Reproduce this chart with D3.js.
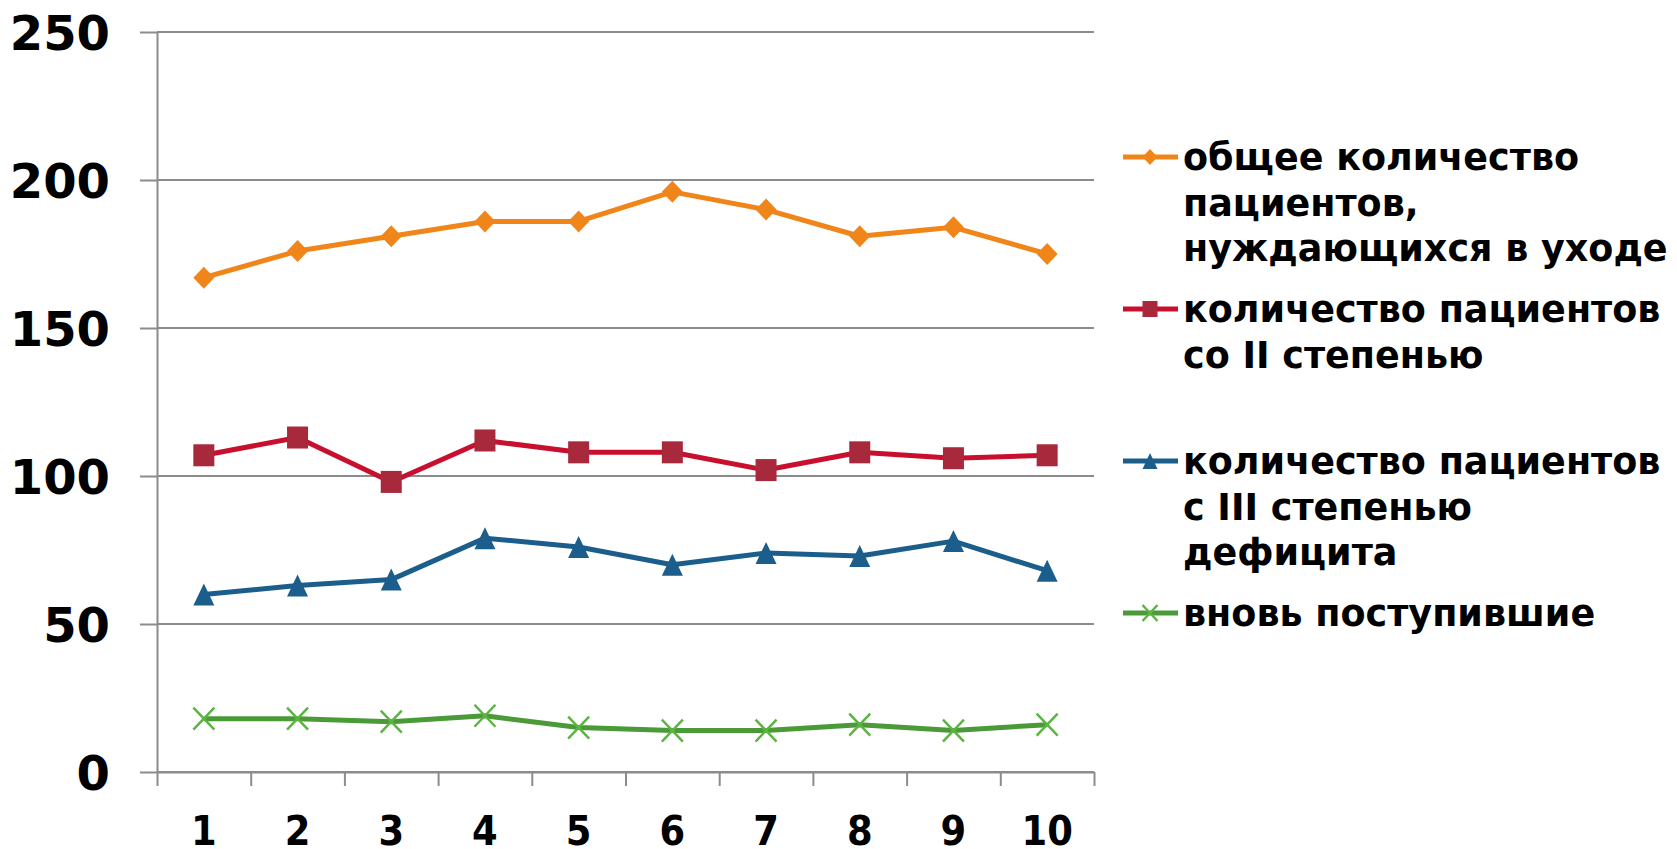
<!DOCTYPE html>
<html>
<head>
<meta charset="utf-8">
<script src="https://cdn.jsdelivr.net/npm/d3@7/dist/d3.min.js"></script>
<style>
  html, body { margin: 0; padding: 0; background: #fff; }
  svg { display: block; }
  text { font-family: "DejaVu Sans", Verdana, sans-serif; font-weight: bold; fill: #000; }
</style>
</head>
<body>
<svg id="chart" width="1677" height="849"></svg>
<script>
// Periods on the horizontal axis
const categories = ["1", "2", "3", "4", "5", "6", "7", "8", "9", "10"];
// Value axis ticks
const yTicks = [0, 50, 100, 150, 200, 250];

// Series values per period
const totalCare   = [167, 176, 181, 186, 186, 196, 190, 181, 184, 175];
const degreeII    = [107, 113, 98, 112, 108, 108, 102, 108, 106, 107];
const degreeIII   = [60, 63, 65, 79, 76, 70, 74, 73, 78, 68];
const newAdmitted = [18, 18, 17, 19, 15, 14, 14, 16, 14, 16];

// Legend labels (split into lines)
const labelTotal = ["общее количество", "пациентов,", "нуждающихся в уходе"];
const labelII    = ["количество пациентов", "со II степенью"];
const labelIII   = ["количество пациентов", "с III степенью", "дефицита"];
const labelNew   = ["вновь поступившие"];

const series = [
  { values: totalCare,   label: labelTotal, line: "#F08519", fill: "#F08519", marker: "diamond" },
  { values: degreeII,    label: labelII,    line: "#C8102E", fill: "#A8283C", marker: "square" },
  { values: degreeIII,   label: labelIII,   line: "#1B5E8C", fill: "#1B5E8C", marker: "triangle" },
  { values: newAdmitted, label: labelNew,   line: "#4A9A38", fill: "#5DB444", marker: "cross" }
];

const svg = d3.select("#chart");
const plot = { left: 157, right: 1094, top: 32, bottom: 772 };
const gridColor = "#8c8c8c";

const x = d3.scaleBand().domain(categories).range([plot.left, plot.right]);
const xEdge = d3.scaleLinear().domain([0, categories.length]).range([plot.left, plot.right]);
const y = d3.scaleLinear().domain([0, 250]).range([plot.bottom, plot.top]);
const cx = c => x(c) + x.bandwidth() / 2;

// Horizontal gridlines
svg.append("g")
  .selectAll("line")
  .data(yTicks)
  .join("line")
  .attr("x1", plot.left)
  .attr("x2", plot.right)
  .attr("y1", d => y(d))
  .attr("y2", d => y(d))
  .attr("stroke", gridColor)
  .attr("stroke-width", 2);

// Value axis
const yAxis = svg.append("g")
  .attr("transform", `translate(${plot.left},0)`)
  .call(d3.axisLeft(y).tickValues(yTicks).tickSize(17).tickSizeOuter(0).tickPadding(30));
yAxis.select(".domain").attr("stroke", gridColor).attr("stroke-width", 2);
yAxis.selectAll(".tick line").attr("stroke", gridColor).attr("stroke-width", 2);
yAxis.selectAll(".tick text")
  .attr("font-size", 48)
  .attr("font-family", "DejaVu Sans")
  .attr("font-weight", "bold")
  .attr("fill", "#000")
  .attr("dy", "0.36em");

// Category axis: tick marks on band edges
const xTickAxis = svg.append("g")
  .attr("transform", `translate(0,${plot.bottom})`)
  .call(d3.axisBottom(xEdge).tickValues(d3.range(categories.length + 1)).tickSize(14).tickSizeOuter(0).tickFormat(""));
xTickAxis.select(".domain").attr("stroke", gridColor).attr("stroke-width", 2);
xTickAxis.selectAll(".tick line").attr("stroke", gridColor).attr("stroke-width", 2);

// Category labels
const xAxis = svg.append("g")
  .attr("transform", `translate(0,${plot.bottom})`)
  .call(d3.axisBottom(x).tickSize(0).tickPadding(0));
xAxis.select(".domain").remove();
xAxis.selectAll(".tick text")
  .attr("font-size", 41)
  .attr("font-family", "DejaVu Sans")
  .attr("font-weight", "bold")
  .attr("fill", "#000")
  .attr("dy", null)
  .attr("y", 0)
  .attr("transform", "translate(0,73) scale(0.9,1)");

// Marker shapes
function drawMarker(g, type, color, s) {
  const w = s.w / 2, h = s.h / 2;
  if (type === "diamond") {
    g.append("path").attr("d", `M0,${-h}L${w},0L0,${h}L${-w},0Z`).attr("fill", color);
  } else if (type === "square") {
    g.append("rect").attr("x", -w).attr("y", -h).attr("width", s.w).attr("height", s.h)
      .attr("fill", color);
  } else if (type === "triangle") {
    g.append("path").attr("d", `M0,${-h}L${w},${h}L${-w},${h}Z`).attr("fill", color);
  } else if (type === "cross") {
    g.append("path").attr("d", `M${-w},${-h}L${w},${h}M${w},${-h}L${-w},${h}`)
      .attr("stroke", color).attr("stroke-width", 2.5).attr("fill", "none");
  }
}

const line = d3.line().x((d, i) => cx(categories[i])).y(d => y(d));

series.forEach(s => {
  svg.append("path")
    .datum(s.values)
    .attr("d", line)
    .attr("fill", "none")
    .attr("stroke", s.line)
    .attr("stroke-width", 5)
    .attr("stroke-linejoin", "round");

  svg.append("g")
    .selectAll("g")
    .data(s.values)
    .join("g")
    .attr("transform", (d, i) => `translate(${cx(categories[i])},${y(d)})`)
    .each(function () { drawMarker(d3.select(this), s.marker, s.fill, { w: 21, h: 22 }); });
});

// Legend
const legend = svg.append("g");
const legendTop = 157, legendStep = 152, lineGap = 45.5;
series.forEach((s, i) => {
  const g = legend.append("g").attr("transform", `translate(0,${legendTop + i * legendStep})`);
  g.append("line")
    .attr("x1", 1123).attr("x2", 1178).attr("y1", 0).attr("y2", 0)
    .attr("stroke", s.line).attr("stroke-width", 5);
  const mk = g.append("g").attr("transform", "translate(1150,0)");
  drawMarker(mk, s.marker, s.fill, { w: 15, h: 16 });
  const t = g.append("text")
    .attr("x", 1183)
    .attr("y", 0)
    .attr("font-size", 36.5);
  t.selectAll("tspan")
    .data(s.label)
    .join("tspan")
    .attr("x", 1183)
    .attr("y", (d, k) => k * lineGap)
    .attr("dy", "0.36em")
    .text(d => d);
});
</script>
</body>
</html>
